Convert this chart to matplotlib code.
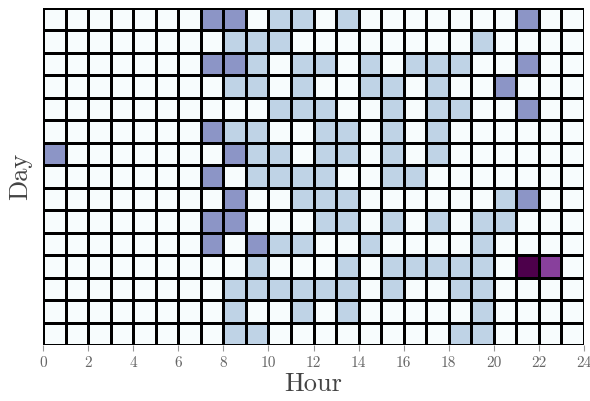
import numpy as np
import matplotlib
matplotlib.use("Agg")
import matplotlib.pyplot as plt

plt.rcParams['font.family'] = 'serif'
plt.rcParams['font.serif'] = ['cmr10', 'DejaVu Serif']
plt.rcParams['axes.formatter.use_mathtext'] = True

# activity level per (day, hour); rows top to bottom, columns hour 0..23
n_days = 15
n_hours = 24
hour_ticks = list(range(0, 25, 2))

# cells that are not zero: (row, hour, level)
active_cells = [
    (0, 7, 2), (0, 8, 2), (0, 10, 1), (0, 11, 1), (0, 13, 1), (0, 21, 2),
    (1, 8, 1), (1, 9, 1), (1, 10, 1), (1, 19, 1),
    (2, 7, 2), (2, 8, 2), (2, 9, 1), (2, 11, 1), (2, 12, 1), (2, 14, 1),
    (2, 16, 1), (2, 17, 1), (2, 18, 1), (2, 21, 2),
    (3, 8, 1), (3, 9, 1), (3, 11, 1), (3, 14, 1), (3, 15, 1), (3, 17, 1), (3, 20, 2),
    (4, 10, 1), (4, 11, 1), (4, 12, 1), (4, 15, 1), (4, 17, 1), (4, 18, 1), (4, 21, 2),
    (5, 7, 2), (5, 8, 1), (5, 9, 1), (5, 12, 1), (5, 13, 1), (5, 15, 1), (5, 17, 1),
    (6, 0, 2), (6, 8, 2), (6, 9, 1), (6, 10, 1), (6, 12, 1), (6, 13, 1), (6, 15, 1), (6, 17, 1),
    (7, 7, 2), (7, 9, 1), (7, 10, 1), (7, 11, 1), (7, 12, 1), (7, 15, 1), (7, 16, 1),
    (8, 8, 2), (8, 11, 1), (8, 12, 1), (8, 13, 1), (8, 20, 1), (8, 21, 2),
    (9, 7, 2), (9, 8, 2), (9, 12, 1), (9, 13, 1), (9, 15, 1), (9, 17, 1), (9, 19, 1), (9, 20, 1),
    (10, 7, 2), (10, 9, 2), (10, 10, 1), (10, 11, 1), (10, 14, 1), (10, 19, 1),
    (11, 9, 1), (11, 13, 1), (11, 15, 1), (11, 16, 1), (11, 17, 1), (11, 18, 1),
    (11, 19, 1), (11, 21, 4), (11, 22, 3),
    (12, 8, 1), (12, 9, 1), (12, 10, 1), (12, 11, 1), (12, 12, 1), (12, 13, 1),
    (12, 15, 1), (12, 18, 1), (12, 19, 1),
    (13, 8, 1), (13, 11, 1), (13, 13, 1), (13, 19, 1),
    (14, 8, 1), (14, 9, 1), (14, 18, 1), (14, 19, 1),
]

grid = np.zeros((n_days, n_hours))
for r, c, v in active_cells:
    grid[r, c] = v

fig = plt.figure(figsize=(5.9, 4.01), dpi=100)
ax = fig.add_axes([43 / 590, 1 - 345 / 401, 541 / 590, 337 / 401])

ax.pcolormesh(np.arange(n_hours + 1), np.arange(n_days + 1), grid,
              cmap='BuPu', vmin=0, vmax=4, edgecolors='black', linewidth=2)
ax.set_xlim(0, n_hours)
ax.set_ylim(n_days, 0)

for s in ax.spines.values():
    s.set_visible(False)

ax.set_xticks(hour_ticks)
ax.set_xticklabels([str(h) for h in hour_ticks], fontsize=11, color='#666666')
ax.tick_params(axis='x', length=4, width=0.8, color='#999999', pad=4)
ax.set_yticks([])
ax.set_xlabel('Hour', fontsize=19, color='#444444', labelpad=2)
ax.set_ylabel('Day', fontsize=19, color='#444444', labelpad=8)

fig.savefig('out.png', dpi=100)
